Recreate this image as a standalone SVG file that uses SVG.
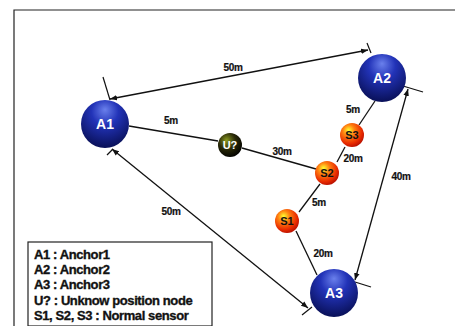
<svg xmlns="http://www.w3.org/2000/svg" width="455" height="326" viewBox="0 0 455 326">
<defs>
<radialGradient id="gBlue" cx="0.5" cy="0.3" r="0.7" fx="0.5" fy="0.2">
<stop offset="0" stop-color="#6a80ec"/>
<stop offset="0.4" stop-color="#2233b8"/>
<stop offset="1" stop-color="#091058"/>
</radialGradient>
<radialGradient id="gOrange" cx="0.4" cy="0.35" r="0.7" fx="0.35" fy="0.3">
<stop offset="0" stop-color="#ffff30"/>
<stop offset="0.35" stop-color="#ff8010"/>
<stop offset="0.75" stop-color="#e82a00"/>
<stop offset="1" stop-color="#b00c00"/>
</radialGradient>
<radialGradient id="gBlack" cx="0.4" cy="0.35" r="0.7" fx="0.35" fy="0.3">
<stop offset="0" stop-color="#8a9a20"/>
<stop offset="0.5" stop-color="#2a2a08"/>
<stop offset="1" stop-color="#000000"/>
</radialGradient>
<marker id="ah" viewBox="0 0 10 10" refX="10" refY="5" markerWidth="7" markerHeight="7" orient="auto-start-reverse" markerUnits="userSpaceOnUse">
<path d="M0,1 L10,5 L0,9 z" fill="#111"/>
</marker>
</defs>
<style>
.ln{stroke:#111;stroke-width:1.3;fill:none}
.dim{stroke:#111;stroke-width:1.3;fill:none;marker-start:url(#ah);marker-end:url(#ah)}
.tk{stroke:#111;stroke-width:1.2}
.lab{font-family:"Liberation Sans",Arial,sans-serif;font-weight:bold;font-size:10px;fill:#111;stroke:#111;stroke-width:0.2;text-anchor:middle;letter-spacing:-0.3px}
.an{font-family:"Liberation Sans",Arial,sans-serif;font-weight:bold;font-size:14px;fill:#fff;text-anchor:middle}
.sn{font-family:"Liberation Sans",Arial,sans-serif;font-weight:bold;font-size:11px;fill:#111;text-anchor:middle}
.un{font-family:"Liberation Sans",Arial,sans-serif;font-weight:bold;font-size:11px;fill:#fff;text-anchor:middle}
.lg{font-family:"Liberation Sans",Arial,sans-serif;font-weight:bold;font-size:13px;fill:#111;stroke:#111;stroke-width:0.35;letter-spacing:-0.4px}
</style>
<rect x="0" y="0" width="455" height="326" fill="#fff"/>
<path d="M14,326 L14,10 L455,10" stroke="#222" stroke-width="1.2" fill="none"/>
<g id="connectors">
<line class="ln" x1="129" y1="126" x2="218" y2="141"/>
<line class="ln" x1="242" y1="148" x2="316" y2="169"/>
<line class="ln" x1="359" y1="125" x2="375" y2="101"/>
<line class="ln" x1="345" y1="147" x2="337" y2="162"/>
<line class="ln" x1="320" y1="184" x2="299" y2="212"/>
<line class="ln" x1="296" y1="231" x2="317" y2="275"/>
<line class="dim" x1="110" y1="99" x2="368" y2="50"/>
<line class="tk" x1="103" y1="77" x2="110" y2="100"/>
<line class="tk" x1="367" y1="43" x2="371" y2="53"/>
<line class="dim" x1="408" y1="89" x2="355" y2="280"/>
<line class="tk" x1="403" y1="86" x2="423" y2="92"/>
<line class="tk" x1="355" y1="282" x2="371" y2="287"/>
<line class="dim" x1="112" y1="149" x2="308" y2="308"/>
<line class="tk" x1="107" y1="155" x2="113" y2="149"/>
<line class="tk" x1="302" y1="315" x2="312" y2="307"/>
<text class="lab" x="233" y="71">50m</text>
<text class="lab" x="171" y="124">5m</text>
<text class="lab" x="282" y="155">30m</text>
<text class="lab" x="353" y="113">5m</text>
<text class="lab" x="353" y="162">20m</text>
<text class="lab" x="401" y="180">40m</text>
<text class="lab" x="319" y="206">5m</text>
<text class="lab" x="171" y="215">50m</text>
<text class="lab" x="323" y="257">20m</text>
</g>
<g id="A1"><circle cx="105" cy="124" r="24" fill="url(#gBlue)"/><text class="an" x="105" y="129">A1</text></g>
<g id="A2"><circle cx="382" cy="78" r="24" fill="url(#gBlue)"/><text class="an" x="382" y="83">A2</text></g>
<g id="A3"><circle cx="334" cy="293" r="24" fill="url(#gBlue)"/><text class="an" x="334" y="298">A3</text></g>
<g id="U"><circle cx="230" cy="145" r="12" fill="url(#gBlack)"/><text class="un" x="230" y="149">U?</text></g>
<g id="S3"><circle cx="352" cy="135" r="12" fill="url(#gOrange)"/><text class="sn" x="352" y="139">S3</text></g>
<g id="S2"><circle cx="327" cy="173" r="12" fill="url(#gOrange)"/><text class="sn" x="327" y="177">S2</text></g>
<g id="S1"><circle cx="287" cy="221" r="12" fill="url(#gOrange)"/><text class="sn" x="287" y="225">S1</text></g>
<g id="legend">
<rect x="28" y="242" width="184" height="84" fill="#fff" stroke="#222" stroke-width="1.2"/>
<text class="lg" x="34" y="259">A1 : Anchor1</text>
<text class="lg" x="34" y="274">A2 : Anchor2</text>
<text class="lg" x="34" y="289">A3 : Anchor3</text>
<text class="lg" x="34" y="305">U? : Unknow position node</text>
<text class="lg" x="34" y="320">S1, S2, S3 : Normal sensor</text>
</g>
</svg>
